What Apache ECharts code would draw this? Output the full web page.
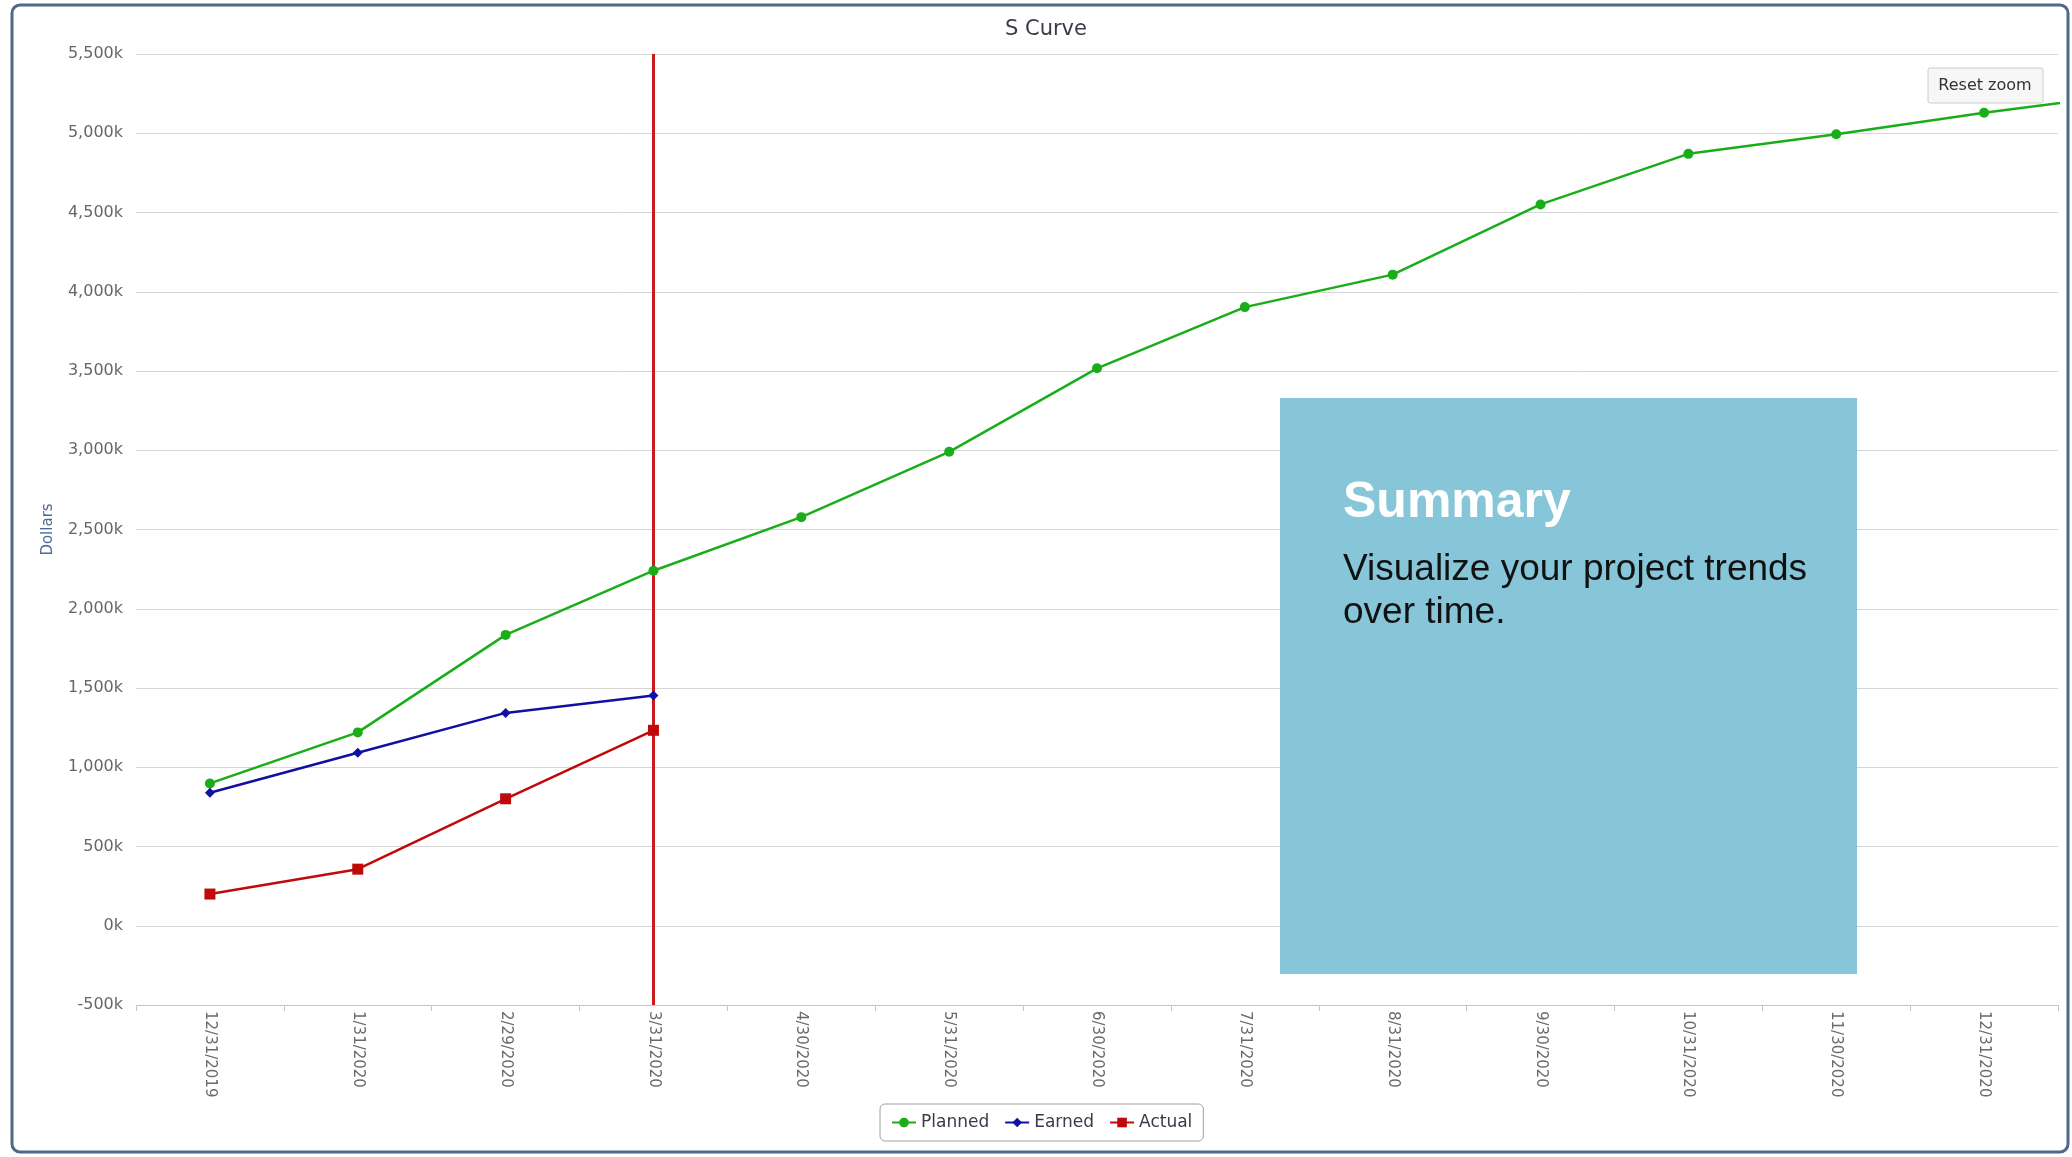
<!DOCTYPE html>
<html>
<head>
<meta charset="utf-8">
<title>S Curve</title>
<script src="https://cdn.jsdelivr.net/npm/echarts@6/dist/echarts.min.js"></script>
<style>
  html, body { margin: 0; padding: 0; background: #fff; }
  #chart { width: 2072px; height: 1157px; }
</style>
</head>
<body>
<div id="chart"></div>
<script>
// month-end dates; the last one lies past the zoomed window
const months = ['12/31/2019', '1/31/2020', '2/29/2020', '3/31/2020', '4/30/2020', '5/31/2020',
  '6/30/2020', '7/31/2020', '8/31/2020', '9/30/2020', '10/31/2020', '11/30/2020', '12/31/2020', '1/31/2021'];
// dollars
const planned = [898000, 1220000, 1835000, 2240000, 2578000, 2990000, 3517000,
  3903000, 4108000, 4551000, 4870000, 4994000, 5129000, 5250000];
const earned = [839000, 1091000, 1343000, 1452000];
const actual = [200000, 357000, 801000, 1233000];
const statusDate = '3/31/2020';

const FONT = '"DejaVu Sans", sans-serif';
const ARIAL = '"Liberation Sans", Arial, sans-serif';

const chart = echarts.init(document.getElementById('chart'));
chart.setOption({
  animation: false,
  backgroundColor: '#fff',
  title: {
    text: 'S Curve', left: 1000, top: 14,
    textStyle: { fontFamily: FONT, fontSize: 21, fontWeight: 'normal', color: '#3b3b48' }
  },
  legend: {
    data: ['Planned', 'Earned', 'Actual'],
    left: 880, top: 1104,
    itemWidth: 24, itemHeight: 12, itemGap: 15,
    padding: [10, 11],
    borderColor: '#a0a0a0', borderWidth: 1, borderRadius: 5,
    textStyle: { fontFamily: FONT, fontSize: 17, color: '#3a3a4a' }
  },
  grid: { left: 136, right: 14, top: 54, bottom: 152, containLabel: false, outerBoundsMode: 'none' },
  dataZoom: [{
    type: 'inside', xAxisIndex: 0, startValue: 0, endValue: 12, filterMode: 'none',
    zoomOnMouseWheel: false, moveOnMouseMove: false, moveOnMouseWheel: false
  }],
  xAxis: {
    type: 'category', data: months, boundaryGap: true,
    axisLine: { onZero: false, lineStyle: { color: '#c4c4c4', width: 1 } },
    axisTick: { show: true, length: 6, lineStyle: { color: '#c4c4c4' } },
    axisLabel: { rotate: -90, margin: 6, fontFamily: FONT, fontSize: 15, color: '#6a6a6a', interval: 0 },
    splitLine: { show: false }
  },
  yAxis: {
    type: 'value', min: -500000, max: 5500000, interval: 500000,
    name: 'Dollars', nameLocation: 'middle', nameGap: 80,
    nameTextStyle: { fontFamily: FONT, fontSize: 15, color: '#4a6b94' },
    axisLine: { show: false }, axisTick: { show: false },
    axisLabel: {
      margin: 13, fontFamily: FONT, fontSize: 16, color: '#666',
      formatter: v => (v / 1000).toLocaleString('en-US') + 'k'
    },
    splitLine: { lineStyle: { color: '#d6d6d6', width: 1 } }
  },
  series: [
    {
      name: 'Planned', type: 'line', data: planned,
      symbol: 'circle', symbolSize: 10,
      itemStyle: { color: '#19ad19' }, lineStyle: { color: '#19ad19', width: 2.5 },
      z: 3
    },
    {
      name: 'Earned', type: 'line', data: earned,
      symbol: 'diamond', symbolSize: 10,
      itemStyle: { color: '#1010a2' }, lineStyle: { color: '#1010a2', width: 2.5 },
      z: 3
    },
    {
      name: 'Actual', type: 'line', data: actual,
      symbol: 'rect', symbolSize: 11,
      itemStyle: { color: '#c00a0a' }, lineStyle: { color: '#c00a0a', width: 2.5 },
      z: 3,
      markLine: {
        silent: true, symbol: 'none', label: { show: false },
        lineStyle: { color: '#c81c1c', width: 3, type: 'solid' },
        data: [{ xAxis: statusDate }],
        z: 2
      }
    }
  ],
  graphic: [
    {
      type: 'rect', z: 0, silent: true,
      shape: { x: 12, y: 5, width: 2056, height: 1147, r: 8 },
      style: { fill: 'none', stroke: '#4d6a8a', lineWidth: 3 }
    },
    // reset zoom button
    { type: 'rect', z: 100, silent: true,
      shape: { x: 1928, y: 68, width: 115, height: 35, r: 2 },
      style: { fill: '#f7f7f7', stroke: '#cccccc', lineWidth: 1 } },
    { type: 'text', z: 101, silent: true, x: 1985, y: 86,
      style: { text: 'Reset zoom', font: '16px ' + FONT, fill: '#333', align: 'center', verticalAlign: 'middle' } },
    // summary panel
    { type: 'rect', z: 100, silent: true,
      shape: { x: 1280, y: 398, width: 577, height: 576 },
      style: { fill: '#87c6d9' } },
    { type: 'text', z: 101, silent: true, x: 1343, y: 503,
      style: { text: 'Summary', font: 'bold 50px ' + ARIAL, fill: '#ffffff', verticalAlign: 'middle' } },
    { type: 'text', z: 101, silent: true, x: 1343, y: 570,
      style: { text: 'Visualize your project trends', font: '37px ' + ARIAL, fill: '#111', verticalAlign: 'middle' } },
    { type: 'text', z: 101, silent: true, x: 1343, y: 613,
      style: { text: 'over time.', font: '37px ' + ARIAL, fill: '#111', verticalAlign: 'middle' } }
  ]
});
</script>
</body>
</html>
